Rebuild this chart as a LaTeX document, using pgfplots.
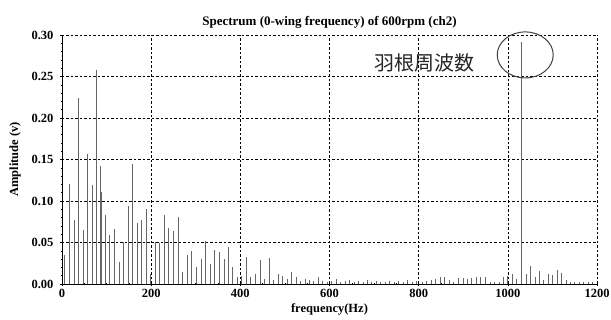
\documentclass[border=0pt]{standalone}
\usepackage{fontspec}
\setmainfont{Liberation Serif}
\newfontfamily\cjk{Noto Sans CJK JP}
\usepackage{pgfplots}
\pgfplotsset{compat=1.18}
\begin{document}
\begin{tikzpicture}
\begin{axis}[
  scale only axis, width=535pt, height=249pt,
  xmin=0, xmax=1200, ymin=0, ymax=0.30,
  xtick={0,200,...,1200}, ytick={0,0.05,0.10,0.15,0.20,0.25,0.30},
  minor x tick num=3, minor y tick num=4,
  /pgf/number format/assume math mode=true,
  yticklabel style={xshift=-3pt, /pgf/number format/.cd,fixed,fixed zerofill,precision=2},
  xticklabel style={/pgf/number format/.cd,fixed,precision=0,1000 sep={}},
  tick label style={font=\bfseries\fontsize{12.5}{14}\selectfont},
  axis x line*=bottom, axis y line*=left,
  axis line style={-, black, line width=0.6pt},
  tick style={black, line width=0.5pt},
  major tick length=4pt, minor tick length=2.5pt,
  tick align=center,
  grid=major,
  major grid style={black, line width=0.5pt, dash pattern=on 2.5pt off 2pt},
  title={\bfseries\fontsize{13}{15}\selectfont Spectrum (0-wing frequency) of 600rpm (ch2)},
  title style={yshift=-3pt},
  xlabel={\bfseries\fontsize{12.5}{14}\selectfont frequency(Hz)},
  xlabel style={yshift=1pt},
  ylabel={\bfseries\fontsize{12.5}{14}\selectfont Amplitude (v)},
  ylabel shift=4pt,
  clip=false,
]
\addplot[ycomb, no marks, draw=black!60, line width=0.8pt] coordinates {
(5,0.035) (17,0.120) (27,0.077) (37,0.224) (48,0.065) (57,0.157) (68,0.119)
(78,0.258) (87,0.142) (89,0.111) (98,0.083) (107,0.059) (118,0.066) (128,0.027)
(138,0.051) (148.5,0.094) (158,0.145) (168.6,0.074) (178.5,0.077) (188.8,0.090)
(199,0.012) (209,0.051) (218.8,0.049) (230,0.083) (239.6,0.068) (250,0.064)
(260.5,0.081) (270,0.015) (281.5,0.035) (290.5,0.040) (301.6,0.020) (312.8,0.030)
(322.5,0.052) (333,0.024) (342.6,0.041) (353,0.038) (363.5,0.030) (374,0.045)
(383,0.020) (393,0.008) (403,0.010) (413.6,0.032) (423,0.008) (433,0.012)
(444,0.029) (454,0.006) (465,0.031)
(475,0.005) (485,0.012) (495,0.010) (505,0.006) (515,0.014) (525,0.008)
(535,0.004) (545,0.006) (555,0.005) (565,0.004) (575,0.009) (585,0.004)
(595,0.003) (605,0.004) (615,0.006) (625,0.003) (635,0.004) (645,0.005)
(655,0.003) (665,0.004) (675,0.003) (685,0.005) (695,0.003) (705,0.004)
(715,0.003) (725,0.003) (735,0.004) (745,0.003) (755,0.004) (765,0.003)
(775,0.005) (785,0.003) (795,0.004) (808,0.003)
(818,0.0035) (828,0.005) (838,0.006) (848,0.009) (858,0.008) (869,0.005)
(879,0.002) (889,0.007) (900,0.007) (909,0.006) (918,0.007) (929,0.009)
(939,0.009) (949,0.009) (960,0.002) (970,0.002) (980,0.003) (990,0.008)
(1000,0.010) (1010,0.012) (1020,0.006) (1030,0.291) (1041,0.012) (1050,0.022)
(1061,0.009) (1070,0.016) (1080,0.005) (1091,0.012) (1101,0.011) (1111,0.017)
(1121,0.013) (1132,0.005) (1141,0.003) (1150,0.002) (1160,0.003) (1170,0.002)
(1180,0.003) (1190,0.002)
};
\coordinate (SW) at (rel axis cs:0,0);
\node[font=\cjk\fontsize{20}{22}\selectfont, text=black!85] at (axis cs:813,0.266) {羽根周波数};
\draw[black!75, line width=1pt] (axis cs:1039,0.276) ellipse [x radius=28pt, y radius=23pt];
\end{axis}
\pgfresetboundingbox
\path[use as bounding box] (SW) ++(-62pt,-36pt) rectangle ++(611pt,320pt);
\end{tikzpicture}
\end{document}
